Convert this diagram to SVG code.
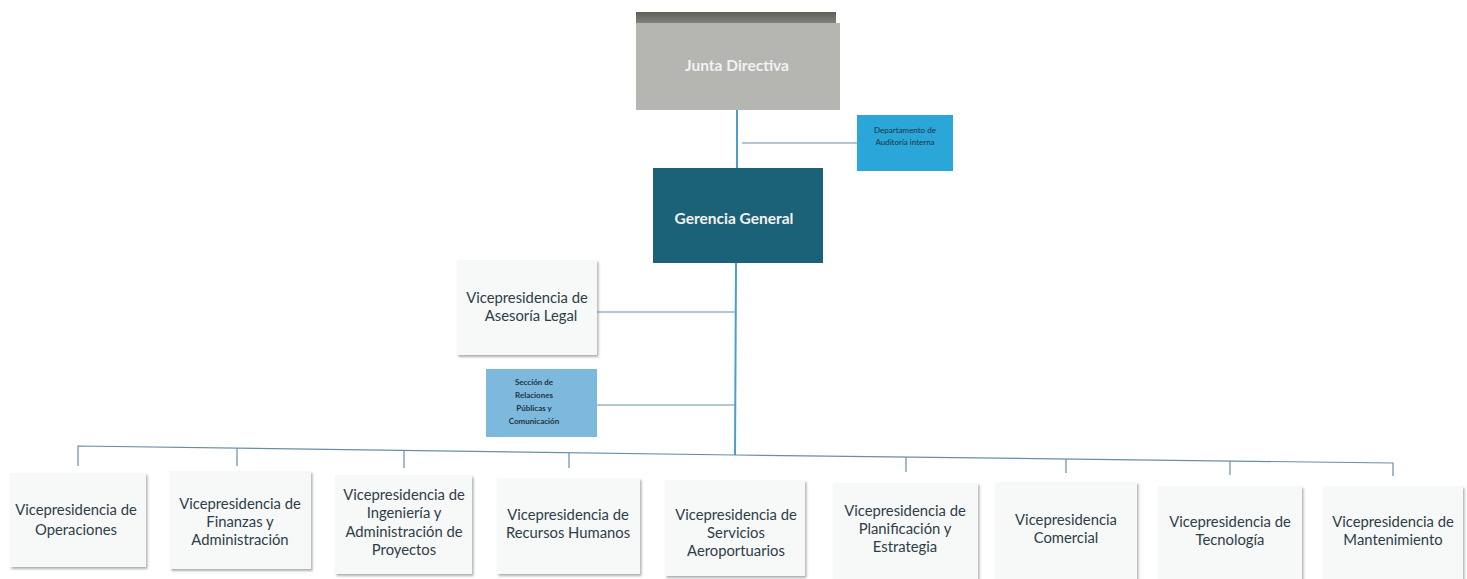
<svg xmlns="http://www.w3.org/2000/svg" width="1467" height="579" viewBox="0 0 1467 579">
<defs>
<filter id="sh" x="-10%" y="-10%" width="125%" height="125%">
<feDropShadow dx="1.5" dy="2" stdDeviation="1.2" flood-color="#8a8f92" flood-opacity="0.7"/>
</filter>
<linearGradient id="jtop" x1="0" y1="0" x2="0" y2="1">
<stop offset="0" stop-color="#5e6059"/>
<stop offset="1" stop-color="#8a8b85"/>
</linearGradient>
<style>
.vp{fill:#f7f8f8;filter:url(#sh)}
.t{font-family:Lato,"Open Sans","Liberation Sans",sans-serif;font-size:14.8px;fill:#2e3d48;text-anchor:middle}
.tw{font-family:Lato,"Open Sans","Liberation Sans",sans-serif;fill:#f2f2f2;text-anchor:middle;font-weight:bold}
.ts{font-family:Lato,"Liberation Sans",sans-serif;font-size:8px;fill:#1f3340;text-anchor:middle}
.ln{stroke:#6a8ea6;stroke-width:1.2;fill:none}
.lm{stroke:#4a9fcf;stroke-width:2;fill:none}
</style>
</defs>
<rect width="1467" height="579" fill="#ffffff"/>
<g id="connectors">
<line class="lm" x1="737" y1="110" x2="737" y2="168"/>
<line class="ln" x1="742" y1="143" x2="857" y2="143"/>
<line class="lm" x1="736" y1="263" x2="735" y2="455"/>
<line class="ln" x1="597" y1="312" x2="735" y2="312"/>
<line class="ln" x1="597" y1="405" x2="735" y2="405"/>
<polyline class="ln" points="78,466 78,446 735,455 1393,463 1393,476"/>
<line class="ln" x1="237" y1="448" x2="237" y2="466"/>
<line class="ln" x1="404" y1="451" x2="404" y2="468"/>
<line class="ln" x1="569" y1="453" x2="569" y2="468"/>
<line class="ln" x1="906" y1="457" x2="906" y2="472"/>
<line class="ln" x1="1066" y1="459" x2="1066" y2="473"/>
<line class="ln" x1="1230" y1="461" x2="1230" y2="475"/>
</g>
<g id="junta">
<rect x="636" y="12" width="200" height="14" fill="url(#jtop)"/>
<rect x="636" y="23" width="204" height="87" fill="#b5b5b2"/>
<text class="tw" x="737" y="71" font-size="15.5">Junta Directiva</text>
</g>
<g id="auditoria">
<rect x="857" y="115" width="96" height="56" fill="#2ba6d8"/>
<text class="ts" x="905" y="133">Departamento de</text>
<text class="ts" x="905" y="145">Auditoría interna</text>
</g>
<g id="gerencia">
<rect x="653" y="168" width="170" height="95" fill="#1b6178"/>
<text class="tw" x="734" y="224" font-size="15.5">Gerencia General</text>
</g>
<g id="legal">
<rect class="vp" x="457" y="260" width="140" height="95"/>
<text class="t" x="527" y="303">Vicepresidencia de</text>
<text class="t" x="531" y="321">Asesoría Legal</text>
</g>
<g id="relaciones">
<rect x="486" y="369" width="111" height="68" fill="#7db9dd"/>
<text class="ts" x="534" y="385" font-weight="bold">Sección de</text>
<text class="ts" x="534" y="398" font-weight="bold">Relaciones</text>
<text class="ts" x="534" y="411" font-weight="bold">Públicas y</text>
<text class="ts" x="534" y="424" font-weight="bold">Comunicación</text>
</g>
<g id="operaciones">
<rect class="vp" x="10" y="473" width="136" height="94"/>
<text class="t" x="76" y="515">Vicepresidencia de</text>
<text class="t" x="76" y="535">Operaciones</text>
</g>
<g id="finanzas">
<rect class="vp" x="170" y="471" width="141" height="98"/>
<text class="t" x="240" y="509">Vicepresidencia de</text>
<text class="t" x="240" y="527">Finanzas y</text>
<text class="t" x="240" y="545">Administración</text>
</g>
<g id="ingenieria">
<rect class="vp" x="335" y="475" width="137" height="99"/>
<text class="t" x="404" y="500">Vicepresidencia de</text>
<text class="t" x="404" y="518">Ingeniería y</text>
<text class="t" x="404" y="537">Administración de</text>
<text class="t" x="404" y="555">Proyectos</text>
</g>
<g id="rrhh">
<rect class="vp" x="497" y="478" width="143" height="96"/>
<text class="t" x="568" y="520">Vicepresidencia de</text>
<text class="t" x="568" y="538">Recursos Humanos</text>
</g>
<g id="servicios">
<rect class="vp" x="665" y="480" width="140" height="96"/>
<text class="t" x="736" y="520">Vicepresidencia de</text>
<text class="t" x="736" y="538">Servicios</text>
<text class="t" x="736" y="556">Aeroportuarios</text>
</g>
<g id="planificacion">
<rect class="vp" x="833" y="483" width="145" height="96"/>
<text class="t" x="905" y="516">Vicepresidencia de</text>
<text class="t" x="905" y="534">Planificación y</text>
<text class="t" x="905" y="552">Estrategia</text>
</g>
<g id="comercial">
<rect class="vp" x="995" y="482" width="142" height="97"/>
<text class="t" x="1066" y="525">Vicepresidencia</text>
<text class="t" x="1066" y="543">Comercial</text>
</g>
<g id="tecnologia">
<rect class="vp" x="1158" y="486" width="144" height="93"/>
<text class="t" x="1230" y="527">Vicepresidencia de</text>
<text class="t" x="1230" y="545">Tecnología</text>
</g>
<g id="mantenimiento">
<rect class="vp" x="1323" y="486" width="140" height="93"/>
<text class="t" x="1393" y="527">Vicepresidencia de</text>
<text class="t" x="1393" y="545">Mantenimiento</text>
</g>
</svg>
